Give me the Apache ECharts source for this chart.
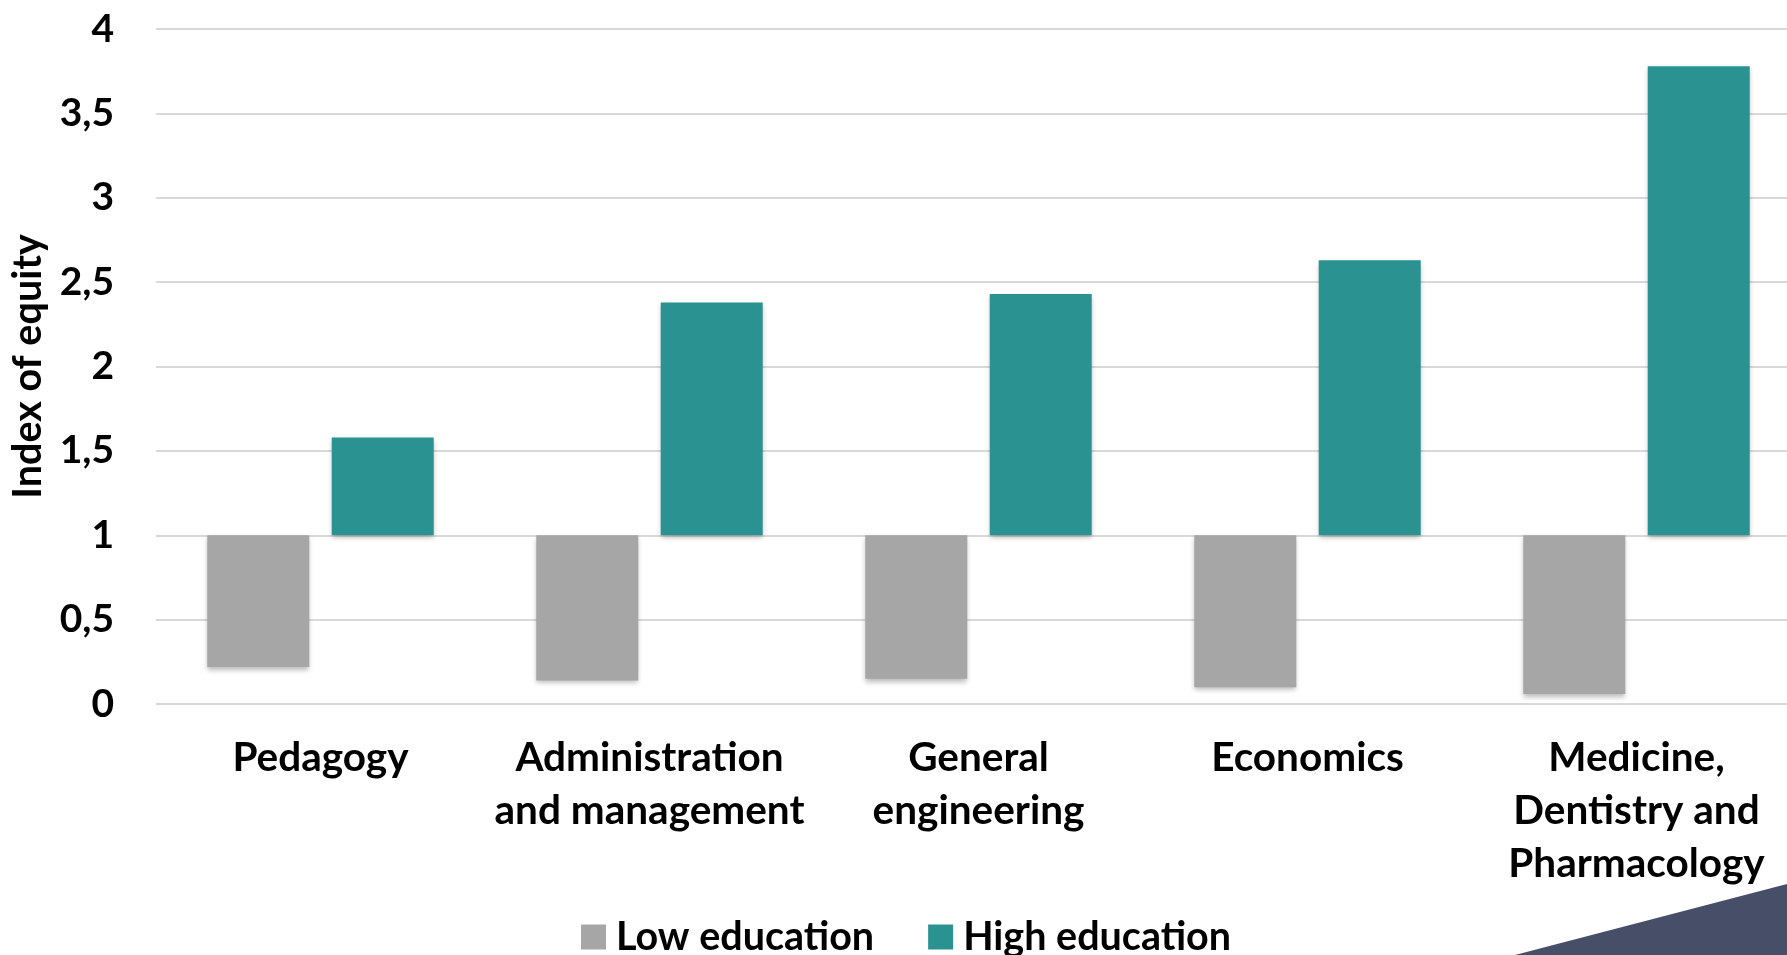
<!DOCTYPE html>
<html>
<head>
<meta charset="utf-8">
<title>Index of equity by field of study</title>
<script src="https://cdn.jsdelivr.net/npm/echarts@6/dist/echarts.min.js"></script>
<style>
  html, body { margin: 0; padding: 0; background: #ffffff; overflow: hidden; }
  #chart { width: 1820px; height: 955px; }
</style>
</head>
<body>
<div id="chart"></div>
<script>
// Fields of study and their equity index for each education group.
var categories = [
  'Pedagogy',
  'Administration\nand management',
  'General\nengineering',
  'Economics',
  'Medicine,\nDentistry and\nPharmacology'
];
var lowEducation = [0.22, 0.14, 0.15, 0.10, 0.06];
var highEducation = [1.58, 2.38, 2.43, 2.63, 3.78];
var yTicks = { min: 0, max: 4, interval: 0.5 };
var baseline = 1;   // bars float from the parity level

var FONT = 'Lato';
var GREY = '#a6a6a6';
var TEAL = '#2a9391';

// Floating bars: an invisible stack segment up to the lower end, then the visible part.
var lowBase = lowEducation.map(function (v) { return Math.min(v, baseline); });
var lowSpan = lowEducation.map(function (v) { return Math.abs(baseline - v); });
var highBase = highEducation.map(function (v) { return Math.min(v, baseline); });
var highSpan = highEducation.map(function (v) { return Math.abs(v - baseline); });

var shadow = {
  shadowBlur: 5,
  shadowOffsetX: 0,
  shadowOffsetY: 3,
  shadowColor: 'rgba(0,0,0,0.28)'
};

var chart = echarts.init(document.getElementById('chart'), null, { renderer: 'canvas' });

chart.setOption({
  animation: false,
  backgroundColor: '#ffffff',
  textStyle: { fontFamily: FONT, fontWeight: 'bold', color: '#000000' },
  grid: { left: 156, top: 29, width: 1645, bottom: 251, containLabel: false },
  legend: {
    data: ['Low education', 'High education'],
    left: 581,
    top: 917,
    padding: 0,
    itemWidth: 25,
    itemHeight: 25,
    itemGap: 54,
    icon: 'rect',
    textStyle: {
      fontFamily: FONT, fontWeight: 'bold', fontSize: 39.5, color: '#000000',
      padding: [0, 0, 0, 5]
    }
  },
  xAxis: {
    type: 'category',
    data: categories,
    axisLine: { show: false },
    axisTick: { show: false },
    axisLabel: {
      interval: 0,
      margin: 27,
      fontFamily: FONT,
      fontWeight: 'bold',
      fontSize: 40.5,
      lineHeight: 53,
      color: '#000000'
    }
  },
  yAxis: {
    type: 'value',
    min: yTicks.min,
    max: yTicks.max,
    interval: yTicks.interval,
    name: 'Index of equity',
    nameLocation: 'middle',
    nameGap: 104,
    nameTextStyle: { fontFamily: FONT, fontWeight: 'bold', fontSize: 39.5, color: '#000000' },
    axisLine: { show: false },
    axisTick: { show: false },
    axisLabel: {
      margin: 42,
      fontFamily: FONT,
      fontWeight: 'bold',
      fontSize: 39,
      color: '#000000',
      formatter: function (v) { return String(v).replace('.', ','); }
    },
    splitLine: { lineStyle: { color: '#d9d9d9', width: 2 } }
  },
  series: [
    {
      name: 'low-base', type: 'bar', stack: 'low', data: lowBase,
      barWidth: 102, barGap: '22%',
      itemStyle: { color: 'rgba(0,0,0,0)' },
      silent: true, legendHoverLink: false
    },
    {
      name: 'Low education', type: 'bar', stack: 'low', data: lowSpan,
      barWidth: 102, barGap: '22%',
      itemStyle: Object.assign({ color: GREY }, shadow)
    },
    {
      name: 'high-base', type: 'bar', stack: 'high', data: highBase,
      barWidth: 102, barGap: '22%',
      itemStyle: { color: 'rgba(0,0,0,0)' },
      silent: true, legendHoverLink: false
    },
    {
      name: 'High education', type: 'bar', stack: 'high', data: highSpan,
      barWidth: 102, barGap: '22%',
      itemStyle: Object.assign({ color: TEAL }, shadow)
    }
  ],
  graphic: [
    {
      // corner accent in the lower right
      type: 'polygon',
      shape: { points: [[1515, 955], [1787, 884], [1820, 875], [1820, 955]] },
      style: { fill: '#474f68' },
      z: 10
    }
  ]
});
</script>
</body>
</html>
